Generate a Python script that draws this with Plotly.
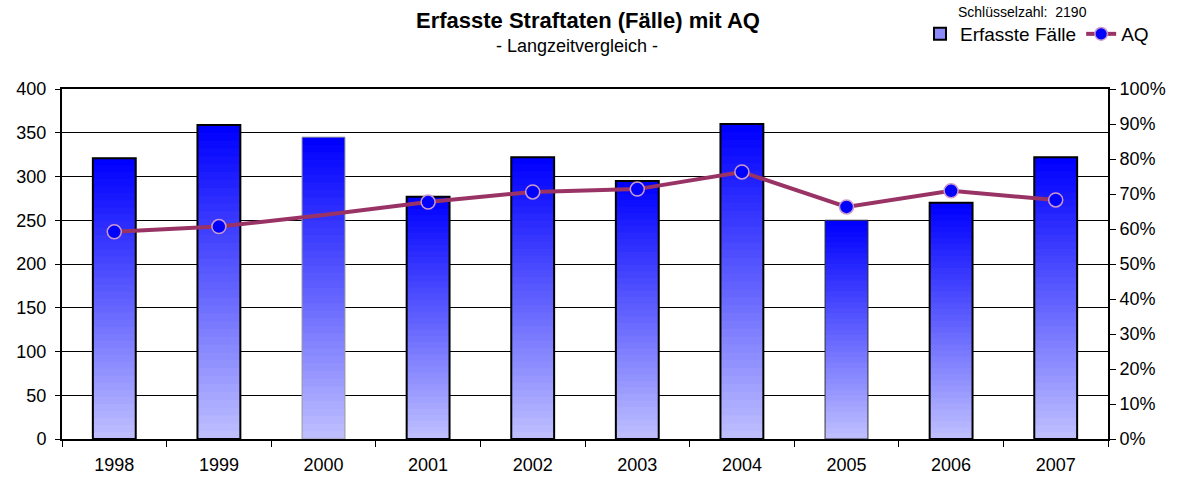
import plotly.graph_objects as go

years = ["1998", "1999", "2000", "2001", "2002", "2003", "2004", "2005", "2006", "2007"]
faelle = [321, 359, 345, 277, 322, 295, 360, 250, 270, 322]
aq = [0.592, 0.607, 0.640, 0.677, 0.706, 0.714, 0.763, 0.663, 0.709, 0.683]
aq_marker_size = [14, 14, 0, 14, 14, 14, 14, 14, 14, 14]
bar_border_width = [2, 2, 1, 2, 2, 2, 2, 1, 2, 2]
bar_border_color = ["black", "black", "#999999", "black", "black", "black", "black", "#333333", "black", "black"]

FONT = "Liberation Sans, Arial, sans-serif"
N = 40
BW = 0.41

fig = go.Figure()

# gradient bars: stacked overlays from light (bottom) to blue (top)
for k in range(N):
    t = k / (N - 1)
    r = int(round(190 * (1 - t)))
    col = f"rgb({r},{r},255)"
    fig.add_trace(go.Bar(
        x=years,
        y=[v - v * k / N for v in faelle],
        base=[v * k / N for v in faelle],
        width=BW,
        marker=dict(color=col, line=dict(width=0)),
        showlegend=False, hoverinfo="skip",
    ))

# outline
fig.add_trace(go.Bar(
    x=years, y=faelle, width=BW,
    marker=dict(color="rgba(0,0,0,0)", line=dict(width=bar_border_width, color=bar_border_color)),
    showlegend=False, name="Erfasste Fälle",
))

# legend entry
fig.add_trace(go.Bar(
    x=[None], y=[None], name="Erfasste Fälle",
    marker=dict(color="#8c8cff", line=dict(width=2, color="black")),
))

fig.add_trace(go.Scatter(
    x=years, y=aq, yaxis="y2", name="AQ", mode="lines+markers",
    line=dict(color="#993366", width=4),
    marker=dict(size=aq_marker_size, color="#0000ff", opacity=1,
                line=dict(width=1.5, color="#cc99cc")),
))

fig.update_layout(
    width=1180, height=480,
    margin=dict(l=62, r=72, t=89, b=41),
    paper_bgcolor="white", plot_bgcolor="white",
    barmode="overlay",
    font=dict(family=FONT, size=18, color="black"),
    xaxis=dict(
        type="category", categoryorder="array", categoryarray=years,
        range=[-0.5, len(years) - 0.5],
        tickson="boundaries", ticks="outside", ticklen=6,
        tickcolor="black", showline=True, linecolor="black", linewidth=2, mirror=True,
        showgrid=False, tickfont=dict(size=18), ticklabelstandoff=8, automargin=False,
    ),
    yaxis=dict(
        range=[0, 400], dtick=50, ticks="outside", ticklen=5, tickcolor="black",
        showline=True, linecolor="black", linewidth=2,
        showgrid=True, gridcolor="black", gridwidth=1, zeroline=False,
        tickfont=dict(size=18), ticklabelstandoff=5, automargin=False,
    ),
    yaxis2=dict(
        range=[0, 1], dtick=0.1, tickformat=".0%", overlaying="y", side="right",
        ticks="outside", ticklen=6, tickcolor="black",
        showline=True, linecolor="black", linewidth=2, showgrid=False, zeroline=False,
        tickfont=dict(size=18), automargin=False,
    ),
    legend=dict(
        orientation="h", xref="container", yref="container",
        x=1154 / 1180, xanchor="right", y=1 - 34 / 480, yanchor="middle",
        font=dict(size=19), bgcolor="rgba(0,0,0,0)", traceorder="normal",
        itemwidth=30,
    ),
    annotations=[
        dict(text="<b>Erfasste Straftaten (Fälle) mit AQ</b>", xref="paper", yref="paper",
             x=(588 - 62) / 1046, y=1 + (89 - 20) / 350, xanchor="center", yanchor="middle",
             showarrow=False, font=dict(size=22)),
        dict(text="- Langzeitvergleich -", xref="paper", yref="paper",
             x=(577 - 62) / 1046, y=1 + (89 - 46) / 350, xanchor="center", yanchor="middle",
             showarrow=False, font=dict(size=18)),
        dict(text="Schlüsselzahl:  2190", xref="paper", yref="paper",
             x=(1023 - 62) / 1046, y=1 + (89 - 12) / 350, xanchor="center", yanchor="middle",
             showarrow=False, font=dict(size=14)),
    ],
)

fig.write_html("out.html", config={"displayModeBar": False},
               post_script="document.body.style.margin='0';document.body.style.overflow='hidden';")
